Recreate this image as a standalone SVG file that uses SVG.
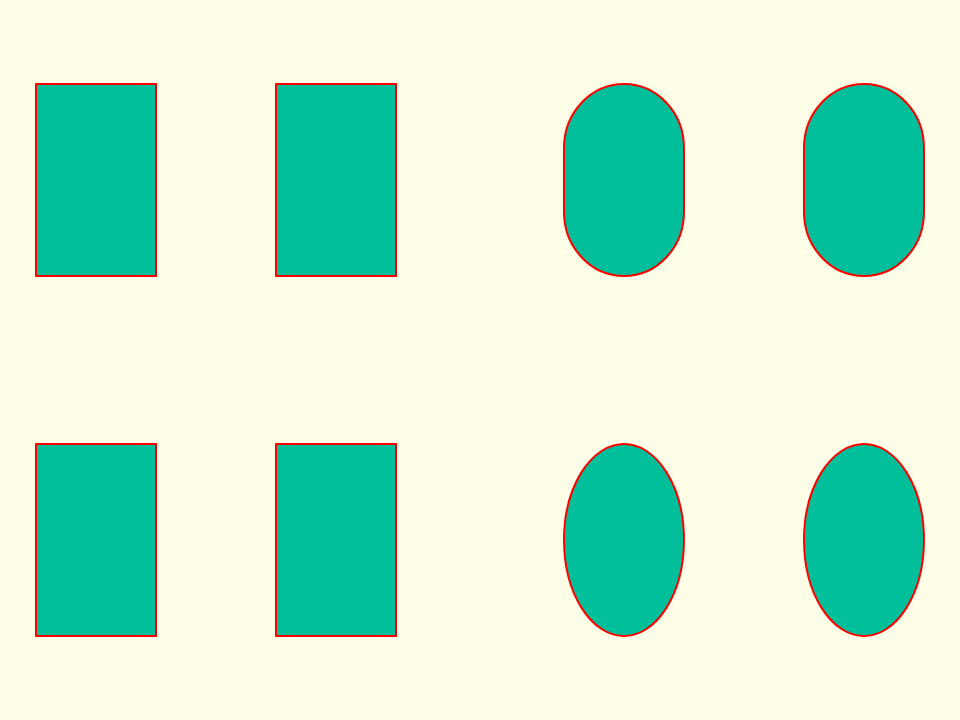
<svg xmlns="http://www.w3.org/2000/svg" width="960" height="720" viewBox="0 0 960 720">
<style>
.s{fill:#00BF9A;stroke:#FF0000;stroke-width:2}
</style>
<rect width="960" height="720" fill="#FFFFE8"/>
<g id="rect1"><rect class="s" x="36" y="84" width="120" height="192"/></g>
<g id="rect2"><rect class="s" x="276" y="84" width="120" height="192"/></g>
<g id="round1"><rect class="s" x="564" y="84" width="120" height="192" rx="60" ry="64"/></g>
<g id="round2"><rect class="s" x="804" y="84" width="120" height="192" rx="60" ry="64"/></g>
<g id="rect3"><rect class="s" x="36" y="444" width="120" height="192"/></g>
<g id="rect4"><rect class="s" x="276" y="444" width="120" height="192"/></g>
<g id="ellipse1"><ellipse class="s" cx="624" cy="540" rx="60" ry="96"/></g>
<g id="ellipse2"><ellipse class="s" cx="864" cy="540" rx="60" ry="96"/></g>
<g id="connectors"></g>
</svg>
